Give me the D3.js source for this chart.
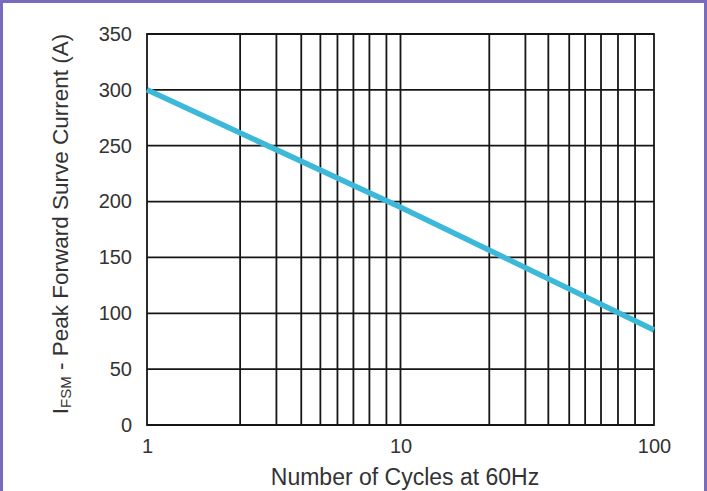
<!DOCTYPE html>
<html>
<head>
<meta charset="utf-8">
<script src="https://cdn.jsdelivr.net/npm/d3@7"></script>
<style>
  html, body { margin: 0; padding: 0; background: #fff; }
  svg { display: block; }
  text { font-family: "Liberation Sans", Arial, Helvetica, sans-serif; fill: #333; }
</style>
</head>
<body>
<svg id="chart" width="707" height="491"></svg>
<script>
// ---- data ----
const cycles = [1, 10, 100];                 // number of cycles at 60 Hz
const surgeCurrent = [300, 195, 85];         // peak forward surge current (A)
const xTickLabels = [1, 10, 100];
const yTickValues = [0, 50, 100, 150, 200, 250, 300, 350];
// vertical grid lines as drawn in the reference (cycle values)
const gridCycles = [2.33, 3.24, 4.06, 4.83, 5.64, 6.52, 7.54, 8.8, 10,
                    22.4, 31.1, 38.3, 46.3, 53.5, 61.8, 72.1, 84.2];
const xTitle = "Number of Cycles at 60Hz";
const yTitleMain = "I";
const yTitleSub = "FSM";
const yTitleRest = " - Peak Forward Surve Current (A)";

// ---- layout ----
const W = 707, H = 491;
const mLeft = 147, mRight = 654, mTop = 34, mBottom = 425;
const numFont = "DejaVu Sans, Liberation Sans, Arial, sans-serif";

const svg = d3.select("#chart");

// frame (bottom edge falls outside the picture, as in the reference)
svg.append("rect")
  .attr("x", 1.5).attr("y", 1.5)
  .attr("width", W - 3).attr("height", H + 10)
  .attr("fill", "#fff")
  .attr("stroke", "#7b6bbf").attr("stroke-width", 3);

const x = d3.scaleLog().domain([1, 100]).range([mLeft, mRight]);
const y = d3.scaleLinear().domain([0, 350]).range([mBottom, mTop]);

const grid = svg.append("g").attr("stroke", "#161616").attr("stroke-width", 1.8);

// horizontal grid
grid.selectAll("line.h").data(yTickValues).join("line")
  .attr("class", "h")
  .attr("x1", mLeft).attr("x2", mRight)
  .attr("y1", d => y(d)).attr("y2", d => y(d));

// vertical grid
grid.selectAll("line.v").data(gridCycles).join("line")
  .attr("class", "v")
  .attr("x1", d => x(d)).attr("x2", d => x(d))
  .attr("y1", mTop).attr("y2", mBottom);

// frame of plot
grid.append("rect")
  .attr("x", mLeft).attr("y", mTop)
  .attr("width", mRight - mLeft).attr("height", mBottom - mTop)
  .attr("fill", "none");

// y axis labels
const yAxis = d3.axisLeft(y).tickValues(yTickValues).tickSize(0).tickPadding(15);
const gy = svg.append("g").attr("transform", `translate(${mLeft},0)`).call(yAxis);
gy.select(".domain").remove();
gy.selectAll("text").attr("font-size", 20).attr("fill", "#333")
  .attr("font-family", numFont);

// x axis labels
const xAxis = d3.axisBottom(x).tickValues(xTickLabels).tickFormat(d3.format("d")).tickSize(0).tickPadding(14);
const gx = svg.append("g").attr("transform", `translate(0,${mBottom})`).call(xAxis);
gx.select(".domain").remove();
gx.selectAll("text").attr("font-size", 20).attr("fill", "#333")
  .attr("font-family", numFont);

// data line
const pts = cycles.map((c, i) => [c, surgeCurrent[i]]);
svg.append("path")
  .datum(pts)
  .attr("fill", "none")
  .attr("stroke", "#3cb9d9")
  .attr("stroke-width", 5.5)
  .attr("d", d3.line().x(d => x(d[0])).y(d => y(d[1])));

// x title
svg.append("text")
  .attr("x", 405).attr("y", 485)
  .attr("text-anchor", "middle")
  .attr("font-size", 23)
  .text(xTitle);

// y title
const yt = svg.append("text")
  .attr("transform", `translate(68,224) rotate(-90)`)
  .attr("text-anchor", "middle")
  .attr("font-size", 22.5);
yt.append("tspan").text(yTitleMain);
yt.append("tspan").attr("font-size", 15).attr("dy", 3).text(yTitleSub);
yt.append("tspan").attr("dy", -3).text(yTitleRest);
</script>
</body>
</html>
